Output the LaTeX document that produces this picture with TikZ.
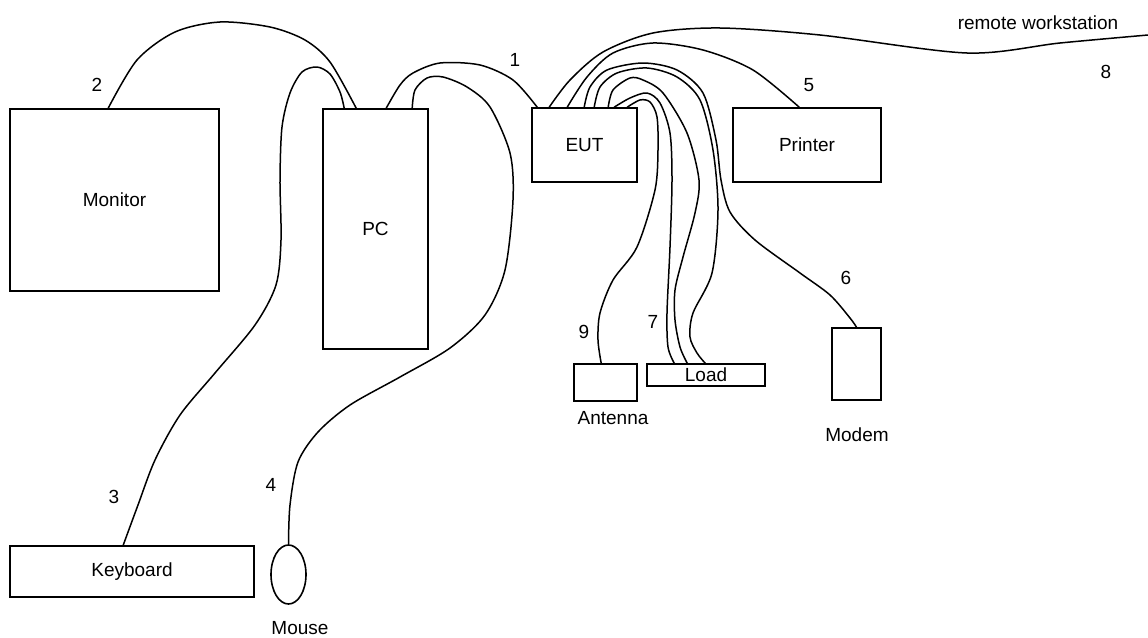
\documentclass[tikz,border=0pt]{standalone}
\usepackage{fontspec}
\setmainfont{Liberation Sans}
\usetikzlibrary{shapes.geometric}
\begin{document}
\begin{tikzpicture}[x=1pt,y=-1pt,
  every node/.style={font=\fontsize{19}{22}\selectfont},
  unit/.style={draw,line width=1.6pt,rectangle,inner sep=0pt,anchor=center},
  cable/.style={line width=1.5pt,line join=round,line cap=round},
  lbl/.style={inner sep=0pt,anchor=center}]
\useasboundingbox (0,0) rectangle (1148,637);
% units
\node[unit,minimum width=209pt,minimum height=182pt] (mon) at (114.5,200) {Monitor};
\node[unit,minimum width=105pt,minimum height=240pt] (pc) at (375.5,229) {PC};
\node[unit,minimum width=105pt,minimum height=74pt] (eut) at (584.5,145) {EUT};
\node[unit,minimum width=148pt,minimum height=74pt] (prn) at (807,145) {Printer};
\node[unit,minimum width=244pt,minimum height=51pt] (kbd) at (132,571.5) {Keyboard};
\node[draw,line width=1.6pt,ellipse,inner sep=0pt,minimum width=35pt,minimum height=59pt] (mouse) at (288.5,574.5) {};
\node[unit,minimum width=63pt,minimum height=37pt] (ant) at (605.5,382.5) {};
\node[unit,minimum width=118pt,minimum height=22pt] (load) at (706,375) {Load};
\node[unit,minimum width=49pt,minimum height=72pt] (modem) at (856.5,364) {};
% captions
\node[lbl] (mousel) at (300,628) {Mouse};
\node[lbl] (antl) at (613,418) {Antenna};
\node[lbl] (modeml) at (857,435) {Modem};
\node[lbl] (rwl) at (1038,23) {remote workstation};
\node[lbl] (n1) at (515,60) {1};
\node[lbl] (n2) at (97,85) {2};
\node[lbl] (n3) at (114,497) {3};
\node[lbl] (n4) at (271,485) {4};
\node[lbl] (n5) at (809,85) {5};
\node[lbl] (n6) at (846,278) {6};
\node[lbl] (n7) at (653,322) {7};
\node[lbl] (n8) at (1106,72) {8};
\node[lbl] (n9) at (584,332) {9};
\coordinate (rw) at (1148,35);
% cable 2: monitor - PC
\draw[cable] plot[smooth] coordinates {([xshift=99pt]mon.north west) (137,60) (175,32) (220,22) (270,27) (305,40) (330,62) ([xshift=34pt]pc.north west)};
% cable 3: PC - keyboard
\draw[cable] plot[smooth] coordinates {([xshift=22pt]pc.north west) (340,92) (330,74) (317,67) (302,72) (290,93) (282,127) (280,180) (281,240) (276,285) (255,325) (215,373) (180,415) (155,460) (138,505) ([xshift=114pt]kbd.north west)};
% cable 4: PC - mouse
\draw[cable] plot[smooth] coordinates {([xshift=90pt]pc.north west) (415,90) (427,78) (443,77) (467,87) (490,107) (510,153) (513,200) (505,270) (485,315) (450,348) (400,377) (350,405) (318,432) (298,462) (290,505) (mouse.north)};
% cable 1: PC - EUT
\draw[cable] plot[smooth] coordinates {([xshift=64pt]pc.north west) (400,85) (413,73) (440,63) (480,65) (513,80) ([xshift=6pt]eut.north west)};
% cable 8: EUT - remote workstation
\draw[cable] plot[smooth] coordinates {([xshift=18pt]eut.north west) (570,80) (603,52) (653,33) (720,28) (820,35) (967,53) (1060,43) (rw)};
% cable 5: EUT - printer
\draw[cable] plot[smooth] coordinates {([xshift=36pt]eut.north west) (587,77) (613,53) (653,43) (703,50) (753,70) ([xshift=67pt]prn.north west)};
% cable 6: EUT - modem
\draw[cable] plot[smooth] coordinates {([xshift=53pt]eut.north west) (590,87) (607,70) (643,63) (677,70) (703,93) (716,140) (721,180) (730,212) (755,240) (800,273) (830,295) (850,318) (modem.north)};
% cables 7: EUT - load
\draw[cable] plot[smooth] coordinates {([xshift=63pt]eut.north west) (600,87) (617,73) (647,68) (677,77) (700,100) (713,150) (718,210) (712,273) (693,313) (690,337) (697,353) ([xshift=59pt]load.north west)};
\draw[cable] plot[smooth] coordinates {([xshift=77pt]eut.north west) (613,90) (630,78) (643,80) (663,93) (687,133) (699,180) (695,213) (683,257) (675,290) (675,320) (680,347) ([xshift=41pt]load.north west)};
\draw[cable] plot[smooth] coordinates {([xshift=83pt]eut.north west) (630,98) (647,93) (660,103) (670,133) (672,180) (670,247) (667,313) (668,347) ([xshift=28pt]load.north west)};
% cable 9: EUT - antenna
\draw[cable] plot[smooth] coordinates {([xshift=96pt]eut.north west) (640,100) (650,102) (657,117) (658,150) (655,190) (637,247) (613,280) (600,313) (598,340) ([xshift=28pt]ant.north west)};
\end{tikzpicture}
\end{document}
